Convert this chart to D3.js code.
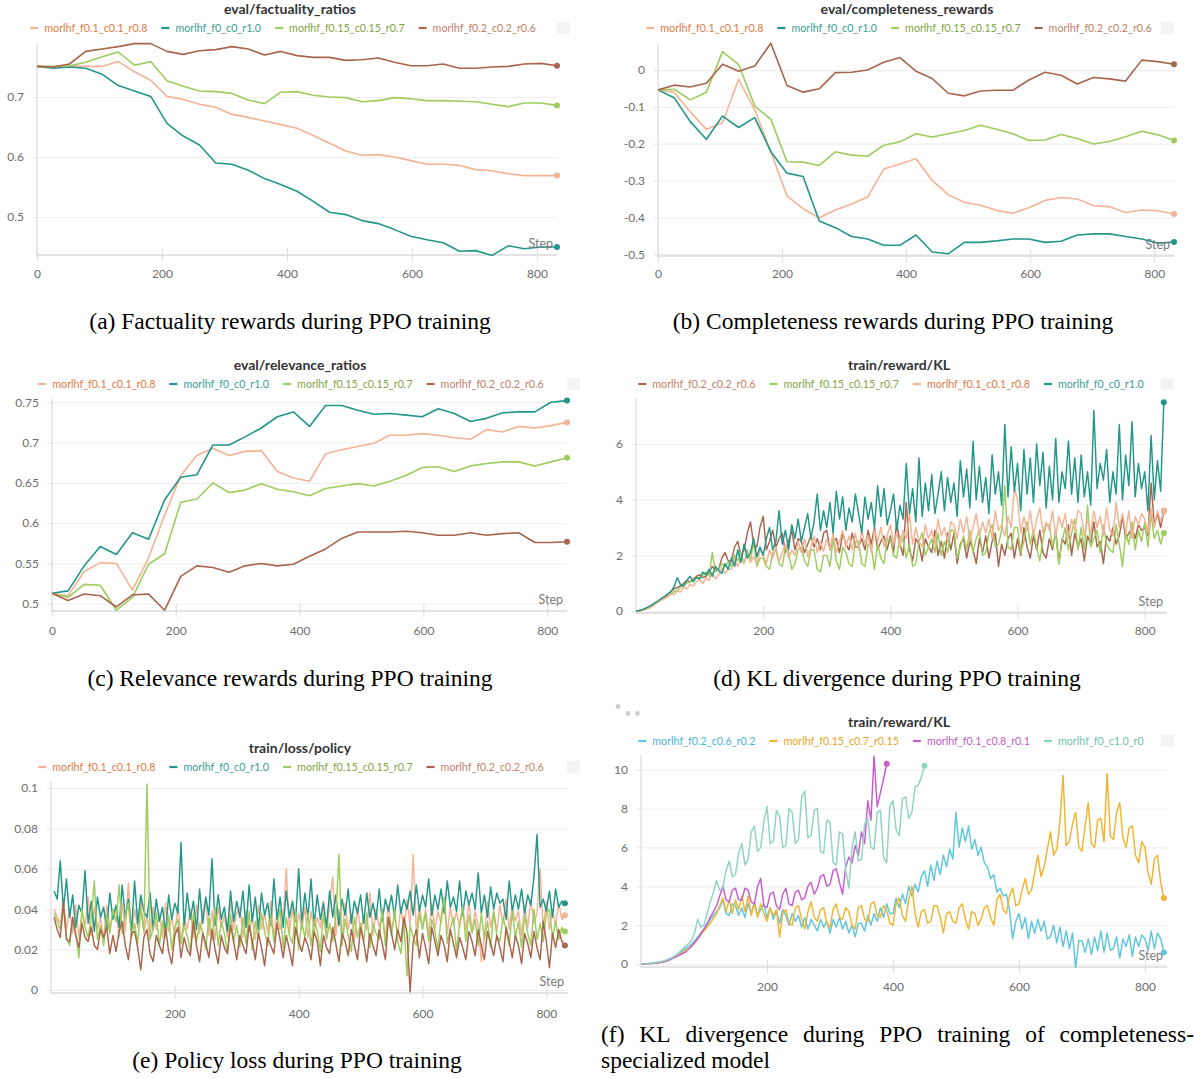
<!DOCTYPE html>
<html><head><meta charset="utf-8">
<script src="https://cdn.jsdelivr.net/npm/d3@7"></script>
<style>body{margin:0;background:#fff}svg{display:block}</style>
</head><body>
<svg id="chart" width="1194" height="1079"></svg>
<script>
// ---------------- DATA ----------------
const evalSteps = [0,26,52,78,104,130,156,182,208,234,260,286,312,338,364,390,416,442,468,494,520,546,572,598,624,650,676,702,728,754,780,806,832];

const runNames = ["morlhf_f0.1_c0.1_r0.8","morlhf_f0_c0_r1.0","morlhf_f0.15_c0.15_r0.7","morlhf_f0.2_c0.2_r0.6"];
const compNames = ["morlhf_f0.2_c0.6_r0.2","morlhf_f0.15_c0.7_r0.15","morlhf_f0.1_c0.8_r0.1","morlhf_f0_c1.0_r0"];

// (a) eval/factuality_ratios
const aPeach = [0.751,0.750,0.752,0.751,0.751,0.759,0.742,0.728,0.701,0.696,0.688,0.683,0.671,0.666,0.660,0.654,0.648,0.636,0.623,0.610,0.603,0.604,0.600,0.594,0.588,0.588,0.586,0.579,0.577,0.572,0.569,0.569,0.569];
const aTeal  = [0.751,0.748,0.750,0.748,0.738,0.719,0.710,0.701,0.656,0.635,0.620,0.590,0.588,0.578,0.564,0.554,0.543,0.526,0.508,0.504,0.494,0.489,0.479,0.468,0.462,0.457,0.443,0.444,0.436,0.452,0.447,0.450,0.450];
const aGreen = [0.751,0.751,0.752,0.758,0.767,0.775,0.753,0.759,0.727,0.718,0.710,0.709,0.706,0.695,0.689,0.708,0.709,0.703,0.700,0.699,0.692,0.694,0.699,0.697,0.694,0.694,0.693,0.692,0.688,0.684,0.690,0.690,0.686];
const aBrown = [0.751,0.750,0.755,0.776,0.780,0.784,0.789,0.789,0.776,0.771,0.777,0.779,0.784,0.780,0.770,0.776,0.769,0.766,0.766,0.761,0.762,0.765,0.758,0.752,0.752,0.755,0.748,0.748,0.750,0.751,0.755,0.756,0.752];

// (b) eval/completeness_rewards
const bPeach = [-0.054,-0.060,-0.113,-0.161,-0.143,-0.025,-0.108,-0.222,-0.342,-0.377,-0.401,-0.380,-0.364,-0.345,-0.269,-0.255,-0.241,-0.299,-0.339,-0.359,-0.367,-0.381,-0.389,-0.374,-0.354,-0.346,-0.350,-0.368,-0.371,-0.387,-0.380,-0.382,-0.391];
const bTeal  = [-0.054,-0.075,-0.140,-0.188,-0.125,-0.156,-0.129,-0.222,-0.280,-0.289,-0.410,-0.428,-0.452,-0.459,-0.476,-0.476,-0.448,-0.494,-0.499,-0.468,-0.468,-0.464,-0.459,-0.459,-0.468,-0.465,-0.448,-0.445,-0.445,-0.452,-0.459,-0.470,-0.467];
const bGreen = [-0.054,-0.052,-0.081,-0.060,0.050,0.015,-0.098,-0.134,-0.249,-0.250,-0.259,-0.222,-0.231,-0.234,-0.204,-0.195,-0.173,-0.182,-0.173,-0.164,-0.150,-0.161,-0.173,-0.191,-0.190,-0.175,-0.186,-0.201,-0.194,-0.181,-0.166,-0.176,-0.191];
const bBrown = [-0.054,-0.041,-0.046,-0.036,0.016,-0.003,0.011,0.073,-0.042,-0.060,-0.051,-0.007,-0.006,0.000,0.021,0.034,-0.003,-0.023,-0.063,-0.070,-0.057,-0.055,-0.055,-0.027,-0.006,-0.014,-0.038,-0.020,-0.024,-0.030,0.027,0.023,0.016];

// (c) eval/relevance_ratios
const cPeach = [0.513,0.510,0.540,0.551,0.550,0.517,0.557,0.610,0.659,0.684,0.693,0.684,0.689,0.690,0.664,0.656,0.652,0.686,0.691,0.695,0.699,0.709,0.709,0.711,0.709,0.706,0.704,0.716,0.713,0.720,0.718,0.721,0.725];
const cTeal  = [0.513,0.516,0.547,0.571,0.561,0.588,0.580,0.629,0.657,0.660,0.697,0.697,0.707,0.718,0.732,0.738,0.720,0.746,0.746,0.740,0.735,0.736,0.734,0.732,0.742,0.736,0.726,0.730,0.737,0.738,0.738,0.750,0.752];
const cGreen = [0.513,0.508,0.524,0.523,0.492,0.508,0.549,0.562,0.626,0.630,0.650,0.638,0.641,0.649,0.642,0.639,0.634,0.643,0.646,0.649,0.646,0.652,0.659,0.669,0.670,0.664,0.671,0.674,0.676,0.676,0.671,0.676,0.681];
const cBrown = [0.513,0.504,0.512,0.510,0.496,0.511,0.512,0.492,0.534,0.547,0.545,0.539,0.547,0.550,0.547,0.549,0.559,0.568,0.581,0.589,0.589,0.589,0.590,0.588,0.585,0.585,0.588,0.585,0.587,0.588,0.576,0.576,0.577];

// (d) train/reward/KL  (one value every 5 steps, from step 0; rows of 50 steps)
const dBrown = [0,0.02,0.04,0.08,0.14,0.2,0.28,0.36,0.45,0.52,
 0.6,0.7,0.8,0.85,0.9,1.0,1.1,1.05,1.15,1.25,
 1.3,1.2,1.25,1.4,1.6,1.45,1.5,1.9,2.1,1.8,
 1.8,2.3,2.5,2.0,2.2,2.8,3.2,2.4,2.3,3.0,
 3.4,2.2,2.5,2.9,2.3,2.6,2.8,2.1,2.5,2.9,
 2.2,2.6,2.5,2.1,2.4,2.7,2.3,2.6,2.2,2.8,
 2.9,2.2,2.5,2.6,2.1,2.8,2.4,2.2,2.8,2.3,
 2.3,2.6,2.2,2.9,2.4,3.0,2.2,2.5,2.7,2.2,
 2.7,2.1,3.2,2.4,2.0,3.9,2.2,1.8,2.6,2.4,
 1.8,2.6,2.3,2.1,2.9,2.0,2.5,1.9,2.8,2.2,
 2.8,1.7,2.4,2.6,1.9,2.5,2.2,1.7,2.6,2.1,
 2.7,1.9,2.5,2.8,1.6,2.4,2.0,2.6,2.8,1.9,
 2.6,2.0,3.0,2.3,1.9,2.7,2.2,2.9,2.1,1.9,
 2.6,2.2,2.9,1.7,2.6,2.4,3.1,2.0,2.8,2.3,
 2.6,1.8,2.7,2.4,3.2,2.3,2.5,1.7,2.7,2.5,
 3.0,2.4,2.7,3.4,2.6,2.8,3.0,2.6,3.1,2.9,
 3.0,2.7,4.6,3.1,3.5,3.0,3.6];
const dGreen = [0,0.01,0.03,0.06,0.1,0.16,0.25,0.33,0.4,0.47,
 0.55,0.62,0.7,0.75,0.85,0.92,1.0,1.05,1.1,1.2,
 1.2,1.3,1.4,1.25,2.1,1.4,1.5,1.7,1.6,1.75,
 1.6,2.0,1.8,2.1,1.7,2.2,1.8,2.5,1.6,1.9,
 1.9,1.6,1.5,2.1,2.2,1.7,1.6,2.3,2.1,1.5,
 1.7,2.2,2.3,1.8,1.6,2.2,2.2,1.5,1.4,2.0,
 2.0,1.6,2.6,1.8,1.5,2.3,2.1,1.7,1.6,2.5,
 2.5,1.7,1.6,2.4,2.3,1.5,2.4,1.9,1.7,2.6,
 2.6,2.0,1.9,2.7,2.5,1.9,2.4,1.6,1.7,2.5,
 2.8,2.0,2.3,2.6,2.1,2.8,2.0,2.5,2.1,2.9,
 2.9,1.9,2.3,2.7,2.2,2.9,2.1,2.6,2.9,2.0,
 2.1,2.8,3.1,2.3,2.4,2.9,4.5,2.3,2.2,3.0,
 3.0,2.1,2.5,3.2,2.4,2.9,2.3,1.8,2.6,3.1,
 3.1,2.3,2.8,1.7,2.5,3.0,2.2,2.8,3.3,2.2,
 3.0,2.2,3.8,2.3,2.6,2.9,2.1,3.1,2.4,2.2,
 2.1,3.1,2.4,1.6,2.8,2.4,3.2,2.2,2.9,2.5,
 3.2,2.3,3.5,2.6,2.9,2.4,2.8];
const dPeach = [0,0.01,0.03,0.07,0.12,0.18,0.25,0.32,0.4,0.45,
 0.5,0.62,0.58,0.72,0.68,0.85,0.8,0.95,0.9,1.05,
 1.15,0.98,1.2,1.1,1.4,1.15,1.3,1.55,1.35,1.5,
 1.5,1.85,1.6,1.9,1.7,2.1,1.75,1.95,1.7,2.2,
 2.0,1.7,2.2,1.9,2.3,1.75,2.1,2.4,1.9,2.2,
 2.0,2.5,2.1,2.6,1.95,2.3,2.7,2.1,2.5,2.15,
 2.6,2.2,2.8,2.1,2.5,2.9,2.3,2.7,2.2,2.8,
 2.2,2.9,2.4,2.7,2.1,2.9,2.5,3.0,2.3,2.7,
 3.1,2.4,2.8,2.3,2.9,2.6,3.5,2.4,3.0,2.5,
 2.3,3.1,2.6,2.9,2.4,3.3,2.7,3.0,2.5,3.2,
 3.1,2.6,3.3,2.8,3.4,2.5,3.0,3.5,2.7,3.2,
 2.8,3.3,2.6,3.6,2.9,3.1,2.7,3.4,3.0,4.4,
 4.0,2.8,3.4,2.9,3.6,2.7,3.3,3.7,2.8,3.2,
 2.9,3.6,2.7,3.4,3.0,3.5,2.6,3.3,2.9,3.6,
 3.5,2.7,3.3,2.8,3.6,3.0,3.4,2.7,3.7,2.9,
 2.7,3.9,3.0,3.5,2.8,3.6,2.6,3.4,3.1,3.5,
 3.3,2.8,3.7,3.0,3.6,3.2,3.6];
const dTeal = [0,0.02,0.05,0.1,0.16,0.22,0.3,0.37,0.45,0.52,
 0.62,0.7,0.88,1.2,0.95,0.9,1.1,1.25,1.05,1.2,
 1.15,1.4,1.3,1.5,1.25,1.6,1.45,1.35,1.7,1.5,
 1.9,1.6,2.2,1.75,2.4,1.9,2.1,2.6,1.95,2.3,
 2.0,2.6,3.0,2.2,2.5,3.6,2.4,2.9,2.2,3.1,
 2.6,3.3,2.5,3.0,3.5,2.6,3.2,4.2,2.9,3.6,
 3.0,3.9,2.8,4.3,3.3,4.1,2.9,3.7,3.2,4.2,
 3.5,2.8,4.1,3.3,3.9,3.0,4.5,3.4,4.4,3.1,
 3.6,4.2,2.9,3.8,3.3,5.3,3.5,4.4,3.2,5.5,
 3.4,4.6,3.6,4.9,3.5,4.2,5.0,3.6,4.8,3.9,
 4.6,3.4,5.4,4.1,5.1,3.7,6.1,4.0,5.2,3.9,
 4.8,3.5,5.6,4.2,5.0,3.8,6.7,4.1,5.9,4.3,
 5.3,3.6,5.8,4.2,5.5,3.9,6.0,4.5,5.7,3.7,
 5.2,4.0,6.2,3.9,5.0,4.4,6.1,4.2,5.5,3.9,
 5.6,4.1,5.0,3.8,7.2,4.4,5.3,4.7,5.8,3.9,
 5.0,4.2,6.7,4.0,5.6,4.5,6.8,4.1,5.3,4.4,
 5.0,3.6,6.3,4.0,5.4,4.3,7.5];

// (e) train/loss/policy  (one value every 5 steps, from step 5)
const ePeach = [0.040,0.036,0.033,0.044,0.030,0.040,0.028,0.042,0.026,0.038,
 0.032,0.046,0.027,0.041,0.030,0.036,0.025,0.042,0.031,0.037,
 0.039,0.026,0.043,0.029,0.053,0.027,0.040,0.031,0.044,0.028,
 0.037,0.025,0.041,0.030,0.038,0.026,0.043,0.029,0.036,0.027,
 0.043,0.024,0.036,0.030,0.040,0.026,0.042,0.028,0.038,0.045,
 0.027,0.039,0.025,0.041,0.031,0.037,0.026,0.044,0.030,0.038,
 0.041,0.026,0.039,0.029,0.036,0.025,0.042,0.030,0.038,0.028,
 0.044,0.026,0.039,0.030,0.035,0.060,0.028,0.041,0.027,0.038,
 0.030,0.041,0.026,0.039,0.029,0.036,0.031,0.044,0.027,0.043,
 0.056,0.027,0.040,0.025,0.043,0.030,0.038,0.024,0.041,0.029,
 0.036,0.030,0.048,0.027,0.040,0.031,0.038,0.026,0.042,0.030,
 0.036,0.028,0.041,0.030,0.045,0.032,0.067,0.029,0.042,0.031,
 0.040,0.027,0.043,0.030,0.039,0.033,0.045,0.028,0.041,0.032,
 0.039,0.031,0.041,0.030,0.044,0.029,0.039,0.032,0.014,0.027,
 0.044,0.031,0.039,0.029,0.042,0.033,0.045,0.030,0.041,0.034,
 0.039,0.027,0.042,0.031,0.045,0.033,0.038,0.060,0.030,0.044,
 0.030,0.040,0.032,0.043,0.035,0.037];
const eTeal = [0.049,0.045,0.064,0.040,0.055,0.036,0.047,0.031,0.042,0.038,
 0.059,0.033,0.044,0.029,0.046,0.036,0.041,0.030,0.048,0.035,
 0.042,0.031,0.052,0.036,0.045,0.029,0.054,0.033,0.047,0.039,
 0.036,0.048,0.030,0.045,0.034,0.041,0.028,0.047,0.035,0.043,
 0.038,0.073,0.031,0.048,0.035,0.044,0.030,0.050,0.033,0.046,
 0.037,0.065,0.032,0.047,0.035,0.041,0.029,0.049,0.034,0.044,
 0.036,0.049,0.031,0.052,0.034,0.046,0.030,0.048,0.037,0.043,
 0.032,0.055,0.035,0.046,0.031,0.049,0.036,0.044,0.034,0.060,
 0.033,0.048,0.036,0.055,0.032,0.047,0.035,0.043,0.031,0.049,
 0.036,0.047,0.032,0.045,0.037,0.050,0.033,0.044,0.038,0.047,
 0.033,0.048,0.036,0.043,0.035,0.050,0.034,0.045,0.039,0.047,
 0.036,0.052,0.038,0.045,0.040,0.049,0.037,0.052,0.039,0.047,
 0.041,0.055,0.037,0.047,0.040,0.050,0.038,0.054,0.041,0.046,
 0.039,0.054,0.037,0.049,0.042,0.048,0.040,0.058,0.038,0.047,
 0.036,0.051,0.040,0.048,0.043,0.045,0.035,0.054,0.039,0.047,
 0.040,0.050,0.038,0.047,0.042,0.056,0.077,0.041,0.045,0.039,
 0.049,0.036,0.050,0.041,0.044,0.043];
const eGreen = [0.038,0.034,0.030,0.041,0.026,0.022,0.035,0.028,0.016,0.040,
 0.031,0.026,0.036,0.054,0.025,0.032,0.022,0.037,0.028,0.040,
 0.034,0.052,0.028,0.037,0.043,0.026,0.033,0.023,0.040,0.029,
 0.102,0.025,0.030,0.038,0.022,0.034,0.026,0.037,0.020,0.031,
 0.035,0.023,0.032,0.027,0.019,0.038,0.024,0.033,0.029,0.020,
 0.036,0.025,0.041,0.022,0.034,0.028,0.018,0.037,0.024,0.032,
 0.021,0.036,0.023,0.039,0.020,0.034,0.026,0.038,0.029,0.022,
 0.037,0.024,0.032,0.040,0.021,0.036,0.027,0.023,0.039,0.020,
 0.034,0.026,0.038,0.022,0.035,0.029,0.019,0.038,0.025,0.033,
 0.024,0.036,0.067,0.022,0.035,0.027,0.019,0.036,0.026,0.033,
 0.024,0.038,0.021,0.033,0.028,0.025,0.040,0.022,0.036,0.027,
 0.040,0.024,0.018,0.033,0.007,0.032,0.026,0.022,0.038,0.030,
 0.038,0.024,0.035,0.029,0.020,0.036,0.046,0.023,0.031,0.036,
 0.019,0.033,0.041,0.024,0.037,0.028,0.035,0.022,0.038,0.025,
 0.034,0.021,0.039,0.027,0.024,0.036,0.030,0.022,0.039,0.026,
 0.034,0.021,0.037,0.028,0.022,0.040,0.025,0.033,0.024,0.038,
 0.040,0.026,0.034,0.025,0.031,0.029];
const eBrown = [0.036,0.030,0.026,0.043,0.025,0.024,0.036,0.027,0.021,0.033,
 0.026,0.024,0.031,0.022,0.020,0.030,0.026,0.031,0.018,0.027,
 0.019,0.029,0.034,0.022,0.015,0.028,0.029,0.021,0.010,0.026,
 0.030,0.018,0.014,0.027,0.022,0.018,0.031,0.019,0.013,0.027,
 0.031,0.016,0.026,0.020,0.017,0.034,0.022,0.014,0.028,0.023,
 0.016,0.030,0.020,0.013,0.027,0.021,0.018,0.032,0.024,0.015,
 0.027,0.022,0.018,0.032,0.024,0.015,0.028,0.021,0.012,0.026,
 0.022,0.018,0.033,0.025,0.016,0.027,0.020,0.012,0.031,0.024,
 0.019,0.026,0.022,0.015,0.029,0.024,0.012,0.027,0.021,0.018,
 0.031,0.023,0.014,0.028,0.024,0.017,0.030,0.022,0.015,0.031,
 0.024,0.014,0.028,0.022,0.017,0.030,0.023,0.015,0.036,0.028,
 0.020,0.030,0.024,0.036,0.028,-0.001,0.024,0.030,0.016,0.028,
 0.021,0.013,0.031,0.024,0.017,0.027,0.022,0.014,0.030,0.023,
 0.016,0.026,0.021,0.015,0.029,0.024,0.017,0.030,0.022,0.015,
 0.029,0.023,0.017,0.027,0.021,0.014,0.031,0.024,0.016,0.027,
 0.022,0.013,0.028,0.023,0.016,0.029,0.021,0.015,0.034,0.024,
 0.011,0.028,0.021,0.030,0.024,0.022];

// (f) train/reward/KL, completeness-specialized  (one value every 5 steps, from step 0)
const fBlue = [0,0.01,0.02,0.03,0.05,0.07,0.1,0.14,0.2,0.27,
 0.35,0.45,0.55,0.65,0.8,0.9,1.0,1.2,1.4,1.6,
 1.8,2.0,2.3,2.5,2.7,2.9,3.3,2.6,2.5,3.1,
 3.0,2.5,2.9,2.4,3.1,2.6,3.2,2.5,2.8,3.1,
 2.4,2.9,2.3,2.7,2.1,2.8,2.5,2.0,2.6,2.2,
 2.5,1.9,2.4,1.8,2.3,2.0,1.7,2.3,1.9,2.2,
 1.6,2.3,1.9,2.4,1.8,2.2,1.6,2.0,1.4,2.1,
 2.1,1.7,2.5,2.0,2.6,2.2,2.9,2.4,3.1,2.6,
 2.6,3.4,2.9,3.6,3.1,4.0,3.5,4.1,3.7,4.5,
 4.8,4.0,5.1,4.3,5.3,4.6,5.6,5.0,5.9,5.4,
 7.8,6.0,7.0,6.3,7.1,5.9,6.4,5.6,6.0,5.2,
 5.0,4.4,4.6,3.7,3.9,3.5,3.6,2.8,1.3,2.2,
 2.6,1.8,2.4,1.3,2.2,1.6,2.3,1.7,2.2,1.3,
 1.4,2.0,1.1,1.9,0.9,1.7,0.8,1.6,-0.2,1.2,
 1.2,0.6,1.3,0.5,1.4,0.7,1.7,0.6,1.6,0.7,
 0.8,1.4,0.3,1.3,0.9,1.5,0.4,1.4,0.9,1.5,
 1.3,0.7,1.7,0.8,1.6,1.3,0.6];
const fOrange = [0,0.01,0.02,0.03,0.04,0.06,0.08,0.11,0.15,0.22,
 0.3,0.37,0.45,0.57,0.7,0.8,0.9,1.1,1.3,1.5,
 1.7,1.9,2.1,2.35,2.6,3.0,3.4,2.7,3.3,2.6,
 3.3,2.8,3.5,2.7,3.5,2.5,3.1,2.4,3.1,2.6,
 2.2,2.9,2.5,2.8,1.4,2.6,2.8,2.1,2.0,2.9,
 3.0,2.3,1.8,2.7,3.2,2.4,2.2,2.8,2.9,2.1,
 1.9,2.8,3.1,2.4,2.3,2.9,2.7,2.0,1.8,2.9,
 3.0,2.3,2.2,3.1,3.2,2.5,2.4,3.0,2.8,2.1,
 2.0,3.1,3.4,2.5,2.2,3.3,4.0,2.6,1.9,2.7,
 2.8,2.1,2.2,3.0,3.0,2.4,1.6,2.6,2.7,2.2,
 2.1,2.9,3.1,2.3,1.8,2.7,2.6,2.0,2.3,2.9,
 3.0,2.4,2.0,3.3,3.6,2.8,2.6,3.5,3.9,3.0,
 3.1,3.8,4.4,3.6,3.8,4.7,5.6,4.5,5.0,5.9,
 6.8,5.6,5.9,7.3,9.7,6.1,6.3,7.2,7.8,6.0,
 5.8,7.1,8.3,6.2,6.0,7.4,7.5,6.3,9.8,6.6,
 6.4,7.8,8.3,6.5,6.0,7.0,7.1,5.6,5.2,6.3,
 6.0,4.7,4.1,5.4,5.6,4.2,3.4];
const fMagenta = [0,0.01,0.02,0.03,0.04,0.06,0.08,0.11,0.15,0.22,
 0.3,0.37,0.45,0.52,0.6,0.75,0.9,1.1,1.3,1.55,
 1.8,2.1,2.4,2.7,3.0,3.5,4.0,3.3,3.2,3.8,
 3.9,3.3,3.3,3.9,3.8,3.2,3.1,4.0,4.4,3.0,
 2.9,3.6,3.7,3.0,2.8,3.6,3.9,3.1,3.0,3.7,
 3.8,3.3,3.4,4.0,4.2,3.6,3.9,4.5,4.6,4.0,
 4.1,4.8,4.9,4.2,3.6,5.0,5.5,5.2,6.1,5.6,
 6.8,6.2,8.4,7.4,10.7,8.1,8.8,9.5,10.3];
const fMint = [0,0.01,0.02,0.04,0.06,0.09,0.12,0.16,0.2,0.27,
 0.35,0.45,0.6,0.75,0.9,1.05,1.2,1.6,2.3,1.9,
 2.0,2.6,3.2,3.7,4.3,3.8,3.9,4.8,5.3,4.5,
 4.6,5.7,6.2,5.1,5.4,6.8,7.1,5.8,6.0,7.3,
 8.1,6.2,6.3,7.9,7.6,6.0,6.1,8.0,7.8,6.2,
 6.4,8.6,8.9,6.5,6.6,7.9,8.0,5.8,5.7,7.4,
 7.3,5.2,5.1,6.8,6.7,4.8,3.9,6.0,6.8,5.3,
 5.4,7.2,7.5,6.0,5.9,7.8,7.9,5.5,5.2,8.1,
 8.4,6.9,6.6,8.5,8.6,7.5,7.8,9.1,9.2,9.6,
 10.2];

const stepTicks = [0,200,400,600,800];
const stepTicksNo0 = [200,400,600,800];
const aYTicks = [0.5,0.6,0.7];
const bYTicks = [0,-0.1,-0.2,-0.3,-0.4,-0.5];
const cYTicks = [0.5,0.55,0.6,0.65,0.7,0.75];
const dYTicks = [0,2,4,6];
const eYTicks = [0,0.02,0.04,0.06,0.08,0.1];
const fYTicks = [0,2,4,6,8,10];

// ---------------- STYLE ----------------
const C = {
  peach:  {line:"#f4b394", text:"#e07a45"},
  teal:   {line:"#229688", text:"#3a9e92"},
  green:  {line:"#9ecd5d", text:"#7fa545"},
  brown:  {line:"#a8654c", text:"#c28167"},
  blue:   {line:"#5ec6dd", text:"#4bb6d6"},
  orange: {line:"#f0b430", text:"#e9a424"},
  magenta:{line:"#c75ccf", text:"#c35ac9"},
  mint:   {line:"#8fd3c1", text:"#6cc2a7"}
};
const FONT = "Lato, 'Open Sans', sans-serif";
const SERIF = "'Liberation Serif', 'Times New Roman', serif";

const svg = d3.select("#chart");
const sampled = (vals, start) => vals.map((v, i) => ({s: start + i * 5, v}));
const onEval = vals => vals.map((v, i) => ({s: evalSteps[i], v}));

function drawPanel(p) {
  const g = svg.append("g");
  const x = d3.scaleLinear().domain(p.xDomain).range([p.left, p.right]);
  const y = d3.scaleLinear().domain(p.yDomain).range([p.bottom, p.top]);
  const w = p.right - p.left;

  const grid = g.append("g").attr("transform", `translate(${p.left},0)`)
    .call(d3.axisLeft(y).tickValues(p.yTicks).tickSize(-w).tickFormat(""));
  grid.select(".domain").remove();
  grid.selectAll("line").attr("stroke", "#efefef").attr("stroke-width", 1.2);

  const ya = g.append("g").attr("transform", `translate(${p.left},0)`)
    .call(d3.axisLeft(y).tickValues(p.yTicks).tickSize(4).tickPadding(9).tickFormat(d => String(d)));
  ya.select(".domain").remove();
  ya.selectAll("line").attr("stroke", "#e3e3e3").attr("stroke-width", 1.2);
  ya.selectAll("text").attr("fill", "#6e6e6e").style("font-family", FONT).style("font-size", "12px");

  g.append("line").attr("x1", p.left).attr("x2", p.left).attr("y1", p.top).attr("y2", p.bottom + 1)
    .attr("stroke", "#e3e3e3").attr("stroke-width", 1.6);
  g.append("line").attr("x1", p.left).attr("x2", p.right).attr("y1", p.bottom).attr("y2", p.bottom)
    .attr("stroke", "#e3e3e3").attr("stroke-width", 1.8);

  const xa = g.append("g").attr("transform", `translate(0,${p.bottom})`)
    .call(d3.axisBottom(x).tickValues(p.xTicks).tickSizeInner(0).tickSizeOuter(0).tickPadding(p.xPad));
  xa.select(".domain").remove();
  xa.selectAll(".tick line").attr("y1", -7).attr("y2", 6).attr("stroke", "#e0e0e0").attr("stroke-width", 1.2);
  xa.selectAll("text").attr("fill", "#6e6e6e").style("font-family", FONT).style("font-size", "12px");

  const line = d3.line().x(d => x(d.s)).y(d => y(d.v));
  const clipId = "clip" + p.id;
  g.append("clipPath").attr("id", clipId).append("rect")
    .attr("x", p.left).attr("y", p.top - 2).attr("width", w + 6).attr("height", p.bottom - p.top + 3);
  const sg = g.append("g").attr("clip-path", `url(#${clipId})`);
  p.series.forEach(s => {
    sg.append("path").datum(s.data).attr("d", line).attr("fill", "none")
      .attr("stroke", s.c.line).attr("stroke-width", p.lw).attr("stroke-linejoin", "round");
  });
  p.series.forEach(s => {
    const last = s.data[s.data.length - 1];
    g.append("circle").attr("cx", x(last.s)).attr("cy", y(last.v)).attr("r", 3).attr("fill", s.c.line);
  });

  g.append("text").attr("x", p.right - 4).attr("y", p.bottom - 7).attr("text-anchor", "end")
    .attr("fill", "#7a7a7a").style("font-family", FONT).style("font-size", "12.5px").text("Step");

  g.append("text").attr("x", p.titleX).attr("y", p.titleY).attr("dy", "0.35em").attr("text-anchor", "middle")
    .attr("fill", "#333").style("font-family", FONT).style("font-weight", 700).style("font-size", "14px").text(p.title);

  const lg = g.append("g");
  let xp = 0;
  p.series.forEach(s => {
    lg.append("line").attr("x1", xp).attr("x2", xp + 8).attr("y1", p.legendY).attr("y2", p.legendY)
      .attr("stroke", s.c.line).attr("stroke-width", 2.2);
    const t = lg.append("text").attr("x", xp + 14).attr("y", p.legendY).attr("dy", "0.35em")
      .attr("fill", s.c.text).style("font-family", FONT).style("font-size", "10.7px").text(s.name);
    xp += 14 + t.node().getComputedTextLength() + 14;
  });
  const total = xp - 14;
  lg.attr("transform", `translate(${p.legendCX - total / 2},0)`);
  g.append("rect").attr("x", p.rectX).attr("y", p.legendY - 6).attr("width", 13).attr("height", 12)
    .attr("fill", "#f4f4f4");
}

const PANELS = [
  {id:"a", left:37, right:557, top:43, bottom:255, xDomain:[0,832], yDomain:[0.4367,0.79], yTicks:aYTicks, xTicks:stepTicks, xPad:14,
   title:"eval/factuality_ratios", titleX:290, titleY:9, legendCX:283, legendY:28, rectX:557, lw:1.6,
   series:[{name:runNames[0], c:C.peach, data:onEval(aPeach)},{name:runNames[1], c:C.teal, data:onEval(aTeal)},
           {name:runNames[2], c:C.green, data:onEval(aGreen)},{name:runNames[3], c:C.brown, data:onEval(aBrown)}]},
  {id:"b", left:658, right:1174, top:43, bottom:256, xDomain:[0,832], yDomain:[-0.505,0.0735], yTicks:bYTicks, xTicks:stepTicks, xPad:13,
   title:"eval/completeness_rewards", titleX:907, titleY:9, legendCX:899, legendY:28, rectX:1161, lw:1.6,
   series:[{name:runNames[0], c:C.peach, data:onEval(bPeach)},{name:runNames[1], c:C.teal, data:onEval(bTeal)},
           {name:runNames[2], c:C.green, data:onEval(bGreen)},{name:runNames[3], c:C.brown, data:onEval(bBrown)}]},
  {id:"c", left:52, right:567, top:399, bottom:611, xDomain:[0,832], yDomain:[0.491,0.754], yTicks:cYTicks, xTicks:stepTicks, xPad:15,
   title:"eval/relevance_ratios", titleX:300, titleY:365, legendCX:291, legendY:384, rectX:567, lw:1.6,
   series:[{name:runNames[0], c:C.peach, data:onEval(cPeach)},{name:runNames[1], c:C.teal, data:onEval(cTeal)},
           {name:runNames[2], c:C.green, data:onEval(cGreen)},{name:runNames[3], c:C.brown, data:onEval(cBrown)}]},
  {id:"d", left:636, right:1167, top:398, bottom:613, xDomain:[0,835], yDomain:[-0.07,7.65], yTicks:dYTicks, xTicks:stepTicksNo0, xPad:13,
   title:"train/reward/KL", titleX:899, titleY:365, legendCX:891, legendY:384, rectX:1161, lw:1.45,
   series:[{name:runNames[3], c:C.brown, data:sampled(dBrown,0)},{name:runNames[2], c:C.green, data:sampled(dGreen,0)},
           {name:runNames[0], c:C.peach, data:sampled(dPeach,0)},{name:runNames[1], c:C.teal, data:sampled(dTeal,0)}]},
  {id:"e", left:51, right:568, top:781, bottom:993, xDomain:[0,835], yDomain:[-0.0015,0.1035], yTicks:eYTicks, xTicks:stepTicksNo0, xPad:16,
   title:"train/loss/policy", titleX:300, titleY:748, legendCX:291, legendY:767, rectX:567, lw:1.45,
   series:[{name:runNames[0], c:C.peach, data:sampled(ePeach,5)},{name:runNames[1], c:C.teal, data:sampled(eTeal,5)},
           {name:runNames[2], c:C.green, data:sampled(eGreen,5)},{name:runNames[3], c:C.brown, data:sampled(eBrown,5)}]},
  {id:"f", left:641, right:1167, top:755, bottom:967, xDomain:[0,835], yDomain:[-0.15,10.75], yTicks:fYTicks, xTicks:stepTicksNo0, xPad:15,
   title:"train/reward/KL", titleX:899, titleY:722, legendCX:891, legendY:741, rectX:1161, lw:1.45,
   series:[{name:compNames[0], c:C.blue, data:sampled(fBlue,0)},{name:compNames[1], c:C.orange, data:sampled(fOrange,0)},
           {name:compNames[2], c:C.magenta, data:sampled(fMagenta,0)},{name:compNames[3], c:C.mint, data:sampled(fMint,0)}]}
];
PANELS.forEach(drawPanel);

// three-dot menu icon in panel (f)
svg.append("g").selectAll("circle").data([[618,706.5],[628,713.5],[637.5,713.5]]).join("circle")
  .attr("cx", d => d[0]).attr("cy", d => d[1]).attr("r", 2.4).attr("fill", "#cfcfcf");

// captions
const CAP = 23.5;
function caption(txt, cx, yb) {
  svg.append("text").attr("x", cx).attr("y", yb).attr("text-anchor", "middle")
    .style("font-family", SERIF).style("font-size", CAP + "px").attr("fill", "#000").text(txt);
}
caption("(a) Factuality rewards during PPO training", 290, 329);
caption("(b) Completeness rewards during PPO training", 893, 329);
caption("(c) Relevance rewards during PPO training", 290, 686);
caption("(d) KL divergence during PPO training", 897, 686);
caption("(e) Policy loss during PPO training", 297, 1068);

function justified(words, x0, x1, yb) {
  const nodes = words.map(wd => svg.append("text").attr("y", yb)
    .style("font-family", SERIF).style("font-size", CAP + "px").attr("fill", "#000").text(wd));
  const widths = nodes.map(n => n.node().getComputedTextLength());
  const gap = (x1 - x0 - d3.sum(widths)) / (words.length - 1);
  let xp = x0;
  nodes.forEach((n, i) => { n.attr("x", xp); xp += widths[i] + gap; });
}
justified(["(f)","KL","divergence","during","PPO","training","of","completeness-"], 601, 1194, 1042);
svg.append("text").attr("x", 601).attr("y", 1068).style("font-family", SERIF).style("font-size", CAP + "px")
  .attr("fill", "#000").text("specialized model");
</script>
</body></html>
